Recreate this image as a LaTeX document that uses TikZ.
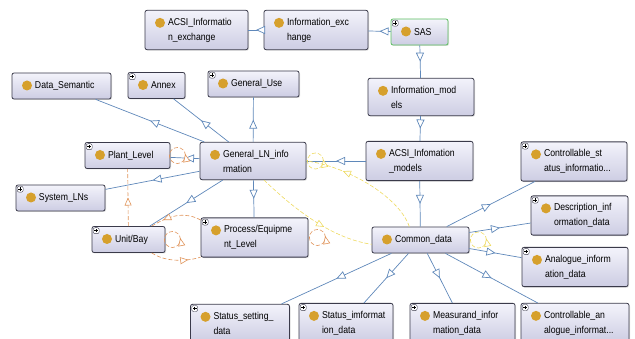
\documentclass[tikz,border=0pt]{standalone}
\usepackage{fontspec}
\setmainfont{Liberation Sans}[FakeStretch=0.87]
\usetikzlibrary{arrows.meta,decorations.markings,shadows}

\definecolor{isablue}{HTML}{5F88BA}
\definecolor{relorange}{HTML}{E0945A}
\definecolor{relyellow}{HTML}{EEDA5E}
\definecolor{ballgold}{HTML}{D6A02C}
\definecolor{boxtop}{HTML}{F3F3FB}
\definecolor{boxbot}{HTML}{CDCDE3}
\definecolor{boxline}{HTML}{3A3A4A}
\definecolor{rootline}{HTML}{5CC060}

% bullet and expand box drawn inside a class box
\newcommand{\owlball}{\fill[ballgold] ([shift={(15pt,-12.5pt)}]path picture bounding box.north west) circle (5pt);}
\newcommand{\owlplus}{%
  \draw[boxline,fill=white,line width=0.4pt] ([shift={(1.2pt,-1.2pt)}]path picture bounding box.north west) rectangle ++(6pt,-6pt);
  \draw[black,line width=0.5pt] ([shift={(4.2pt,-2.4pt)}]path picture bounding box.north west) -- ++(0,-3.6pt)
    ([shift={(2.4pt,-4.2pt)}]path picture bounding box.north west) -- ++(3.6pt,0);}

\tikzset{
  cls/.style={draw=boxline, line width=0.8pt, rounded corners=2pt,
    top color=boxtop, bottom color=boxbot,
    drop shadow={shadow xshift=1pt, shadow yshift=-1pt, opacity=0.25},
    text width=#1pt-6pt, inner xsep=3pt, inner ysep=7.5pt, minimum height=26pt,
    align=left, text=black, font=\fontsize{10}{15}\selectfont,
    execute at begin node={\leftskip=20pt\relax},
    path picture={\owlball}},
  clsplus/.style={cls=#1, path picture={\owlball\owlplus}},
  isa/.style={draw=isablue, line width=0.7pt, postaction={decorate},
    decoration={markings, mark=at position #1 with
      {\arrow[isablue,line width=0.7pt]{Triangle[length=9pt,width=8pt,fill=white]}}}},
  isa/.default=0.5,
  relo/.style={draw=relorange, line width=0.6pt, dash pattern=on 4pt off 2pt, postaction={decorate},
    decoration={markings, mark=at position #1 with
      {\arrow[relorange,solid,line width=0.6pt]{Triangle[length=8pt,width=7pt,fill=white]}}}},
  relo/.default=0.5,
  rely/.style={draw=relyellow, line width=0.6pt, dash pattern=on 4pt off 2pt, postaction={decorate},
    decoration={markings, mark=at position #1 with
      {\arrow[relyellow,solid,line width=0.6pt]{Triangle[length=8pt,width=7pt,fill=white]}}}},
  rely/.default=0.5,
}

\begin{document}
\begin{tikzpicture}[x=1pt,y=-1pt]
  \useasboundingbox (0,0) rectangle (635,339);

  % classes
  \node[cls=103] (acsiex) at (196.5,30) {ACSI\_Informatio\\n\_exchange};
  \node[cls=104] (infoex) at (316,30) {Information\_exc\\hange};
  \node[clsplus=57, draw=rootline] (sas) at (419.5,32) {SAS};
  \node[cls=106] (infomod) at (421,97) {Information\_mod\\els};
  \node[cls=99] (datasem) at (61.5,86) {Data\_Semantic};
  \node[clsplus=57] (annex) at (156.5,85.5) {Annex};
  \node[clsplus=91] (genuse) at (253.5,84) {General\_Use};
  \node[clsplus=85] (plant) at (127.5,155.5) {Plant\_Level};
  \node[cls=106] (genln) at (253,161) {General\_LN\_info\\rmation};
  \node[cls=107] (acsimod) at (419.5,161) {ACSI\_Infomation\\\_models};
  \node[clsplus=89] (syslns) at (60.5,198) {System\_LNs};
  \node[clsplus=73] (unitbay) at (128.5,239.5) {Unit/Bay};
  \node[clsplus=107] (process) at (254.5,237.5) {Process/Equipme\\nt\_Level};
  \node[cls=97] (common) at (420.5,240) {Common\_data};
  \node[clsplus=106] (ctrlstat) at (574,161.5) {Controllable\_st\\atus\_informatio...};
  \node[clsplus=97] (descr) at (579.5,215.5) {Description\_inf\\ormation\_data};
  \node[clsplus=106] (analog) at (575,267) {Analogue\_inform\\ation\_data};
  \node[clsplus=99] (statset) at (240,323) {Status\_setting\_\\data};
  \node[clsplus=94] (statinfo) at (346,323) {Status\_imformat\\ion\_data};
  \node[clsplus=105] (measurand) at (462.5,323) {Measurand\_infor\\mation\_data};
  \node[clsplus=108] (ctrlana) at (575,323) {Controllable\_an\\alogue\_informat...};

  % subclass links
  \draw[isa] (sas) -- (infoex);
  \draw[isa] (infoex) -- (acsiex);
  \draw[isa] (sas) -- (infomod);
  \draw[isa] (infomod) -- (acsimod);
  \draw[isa] (acsimod) -- (genln);
  \draw[isa] (acsimod) -- (common);
  \draw[isa] (genln) -- (datasem);
  \draw[isa] (genln) -- (annex);
  \draw[isa] (genln) -- (genuse);
  \draw[isa] (genln) -- (plant);
  \draw[isa] (genln) -- (syslns);
  \draw[isa] (genln) -- (unitbay);
  \draw[isa] (genln) -- (process);
  \draw[isa] (common) -- (ctrlstat);
  \draw[isa] (common) -- (descr);
  \draw[isa] (common) -- (analog);
  \draw[isa] (common) -- (statset);
  \draw[isa] (common) -- (statinfo);
  \draw[isa] (common) -- (measurand);
  \draw[isa] (common) -- (ctrlana);

  % other relations
  \draw[relo] (unitbay) -- (plant);
  \draw[relo=0.03] ([xshift=7pt]plant.east) circle (8pt);
  \draw[relo=0.03] ([xshift=7pt]unitbay.east) circle (8pt);
  \draw[relo=0.03] ([xshift=9pt]process.east) circle (8pt);
  \draw[relo=0.75] (process.162) .. controls +(-15,-8) and +(20,-12) .. (unitbay.30);
  \draw[relo=0.75] (unitbay.-30) .. controls +(15,10) and +(-12,4) .. (process.200);
  \draw[rely=0.03] ([xshift=9pt]genln.east) circle (8pt);
  \draw[rely=0.03] ([xshift=9pt]common.east) circle (8pt);
  \draw[rely=0.7] (common.130) .. controls +(-10,-30) and +(40,5) .. (genln.east);
  \draw[rely=0.6] (genln.-60) .. controls +(26,25) and +(-42,-6) .. (common.185);
\end{tikzpicture}
\end{document}
